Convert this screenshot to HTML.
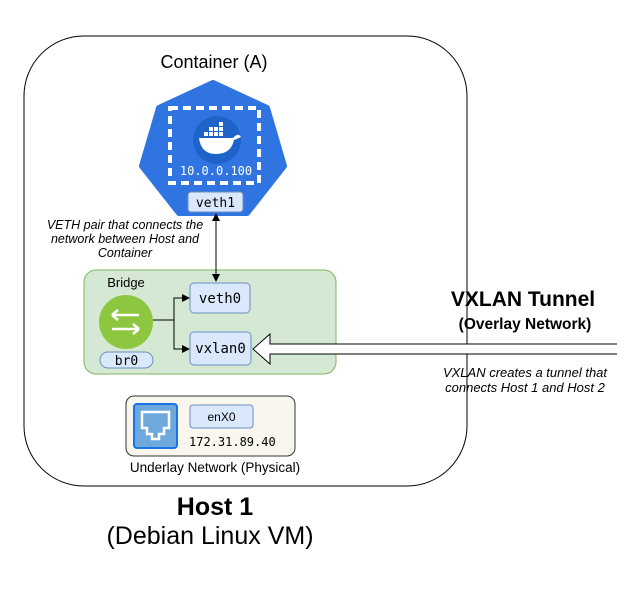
<!DOCTYPE html>
<html><head><style>
body{margin:0;background:#fff;width:617px;height:588px;overflow:hidden}
svg text{font-family:"Liberation Sans",sans-serif}
.m{font-family:"DejaVu Sans Mono","Liberation Mono",monospace}
</style></head><body>
<svg width="617" height="588" viewBox="0 0 617 588">
<defs><marker id="a" markerWidth="8" markerHeight="8" refX="7" refY="4" orient="auto-start-reverse" markerUnits="userSpaceOnUse"><path d="M0,0 L8,4 L0,8 z" fill="#000"/></marker></defs>
<rect x="24" y="36" width="443" height="450" rx="60" fill="#fff" stroke="#000" stroke-width="1"/>
<text x="214" y="68" font-size="18" text-anchor="middle">Container (A)</text>
<polygon points="213,83 267,108 284,166 247,213 179,213 142,166 159,108" fill="#2f74e0" stroke="#2f74e0" stroke-width="6" stroke-linejoin="round"/>
<rect x="170" y="108" width="89" height="75" fill="none" stroke="#fff" stroke-width="4" stroke-dasharray="8,5"/>
<circle cx="217" cy="140" r="24" fill="#1d63c9"/>
<path d="M199,138 h34 q5,-6 8,-1 q-4,2 -7,3 q-3,14 -18,14 q-15,0 -17,-16z" fill="#fff"/>
<g fill="#fff"><rect x="204" y="132" width="4" height="4"/><rect x="209" y="132" width="4" height="4"/><rect x="214" y="132" width="4" height="4"/><rect x="219" y="132" width="4" height="4"/><rect x="209" y="127" width="4" height="4"/><rect x="214" y="127" width="4" height="4"/><rect x="219" y="127" width="4" height="4"/><rect x="219" y="122" width="4" height="4"/></g>
<text x="216" y="175" font-size="12" fill="#fff" text-anchor="middle" class="m">10.0.0.100</text>
<rect x="188" y="192" width="55" height="20" rx="3" fill="#dae8fc" stroke="#6c8ebf"/>
<text x="215.5" y="207" font-size="13" text-anchor="middle" class="m">veth1</text>
<text x="125" y="229" font-size="12.5" font-style="italic" text-anchor="middle">VETH pair that connects the</text>
<text x="125" y="243" font-size="12.5" font-style="italic" text-anchor="middle">network between Host and</text>
<text x="125" y="257" font-size="12.5" font-style="italic" text-anchor="middle">Container</text>
<rect x="84" y="270" width="252" height="104" rx="12" fill="#d5e8d4" stroke="#82b366"/>
<line x1="216" y1="214" x2="216" y2="281" stroke="#000" marker-start="url(#a)" marker-end="url(#a)"/>
<text x="126" y="287" font-size="13" text-anchor="middle">Bridge</text>
<circle cx="126" cy="322" r="27" fill="#8dc63f"/>
<path d="M112,315 h27 M112,315 l6,-5 M112,315 l6,5 M112,329 h27 M139,329 l-6,-5 M139,329 l-6,5" stroke="#fff" stroke-width="2.5" fill="none"/>
<rect x="100" y="352" width="53" height="16" rx="8" fill="#dae8fc" stroke="#6c8ebf"/>
<text x="126.5" y="365" font-size="13" text-anchor="middle" class="m">br0</text>
<path d="M153,320 H174 V298 H189" stroke="#000" fill="none" marker-end="url(#a)"/>
<path d="M174,320 V349 H189" stroke="#000" fill="none" marker-end="url(#a)"/>
<rect x="190" y="283" width="60" height="30" rx="4" fill="#dae8fc" stroke="#6c8ebf"/>
<text x="220" y="303" font-size="14" text-anchor="middle" class="m">veth0</text>
<rect x="190" y="332" width="61" height="33" rx="4" fill="#dae8fc" stroke="#6c8ebf"/>
<text x="220.5" y="353" font-size="14" text-anchor="middle" class="m">vxlan0</text>
<path d="M617,344 H270 V334 L253,349 L270,364 V354 H617" fill="#fff" stroke="#000"/>
<rect x="126" y="396" width="169" height="60" rx="8" fill="#f9f7ed" stroke="#333"/>
<rect x="134" y="404" width="43" height="44" rx="3" fill="#6fa8dc" stroke="#1a73e8" stroke-width="2"/>
<path d="M142,412 h27 v16 h-5 v6 h-5 v5 h-7 v-5 h-5 v-6 h-5z" fill="none" stroke="#fff" stroke-width="2.5"/>
<rect x="190" y="405" width="63" height="23" rx="3" fill="#dae8fc" stroke="#6c8ebf"/>
<text x="221.5" y="421" font-size="12" text-anchor="middle">enX0</text>
<text x="189" y="446" font-size="12" class="m">172.31.89.40</text>
<text x="215" y="472" font-size="13.5" text-anchor="middle">Underlay Network (Physical)</text>
<text x="215" y="515" font-size="25" font-weight="bold" text-anchor="middle">Host 1</text>
<text x="210" y="544" font-size="25" text-anchor="middle">(Debian Linux VM)</text>
<text x="523" y="306" font-size="21" font-weight="bold" text-anchor="middle">VXLAN Tunnel</text>
<text x="525" y="329" font-size="15.5" font-weight="bold" text-anchor="middle">(Overlay Network)</text>
<text x="525" y="377" font-size="13" font-style="italic" text-anchor="middle">VXLAN creates a tunnel that</text>
<text x="525" y="392" font-size="13" font-style="italic" text-anchor="middle">connects Host 1 and Host 2</text>
</svg>
</body></html>
